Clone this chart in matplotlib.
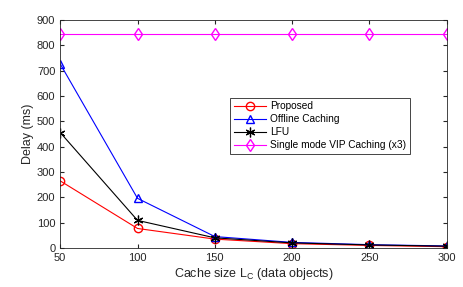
import matplotlib.pyplot as plt

plt.rcParams['font.family'] = ['Liberation Sans', 'DejaVu Sans']

cache_size = [50, 100, 150, 200, 250, 300]
proposed = [265, 77, 35, 17, 10, 5]
offline = [727, 196, 45, 22, 13, 8]
lfu = [456, 109, 40, 20, 12, 7]
vip = [846, 846, 846, 846, 846, 846]

fig = plt.figure(figsize=(4.63, 2.87), dpi=100)
ax = fig.add_axes([0.13, 0.136, 0.835, 0.794])

ax.plot(cache_size, proposed, color='red', marker='o', mfc='none', ms=6, lw=0.8, label='Proposed')
ax.plot(cache_size, offline, color='blue', marker='^', mfc='none', ms=6, lw=0.8, label='Offline Caching')
ax.plot(cache_size, lfu, color='black', marker=(6, 2, 0), ms=7, mew=0.9, lw=0.8, label='LFU')
ax.plot(cache_size, vip, color='magenta', marker='d', mfc='none', ms=6, lw=0.8,
        label='Single mode VIP Caching (x3)')

ax.set_xlim(50, 300)
ax.set_ylim(0, 900)
ax.set_xticks(cache_size)
ax.set_yticks(range(0, 901, 100))
ax.tick_params(direction='in', top=True, right=True, labelsize=8, colors='#262626', length=3)
for s in ax.spines.values():
    s.set_color('#262626')
    s.set_linewidth(0.6)

ax.set_xlabel('Cache size L$_\\mathregular{C}$ (data objects)', fontsize=9, color='#262626', labelpad=2)
ax.set_ylabel('Delay (ms)', fontsize=9, color='#262626', labelpad=2)

leg = ax.legend(loc='upper left', bbox_to_anchor=(0.44, 0.66), fontsize=7.3, fancybox=False,
                edgecolor='#262626', framealpha=1, handlelength=3.2, borderpad=0.35,
                labelspacing=0.3, handletextpad=0.4, borderaxespad=0)
leg.get_frame().set_linewidth(0.6)

fig.savefig('out.png', dpi=100)
